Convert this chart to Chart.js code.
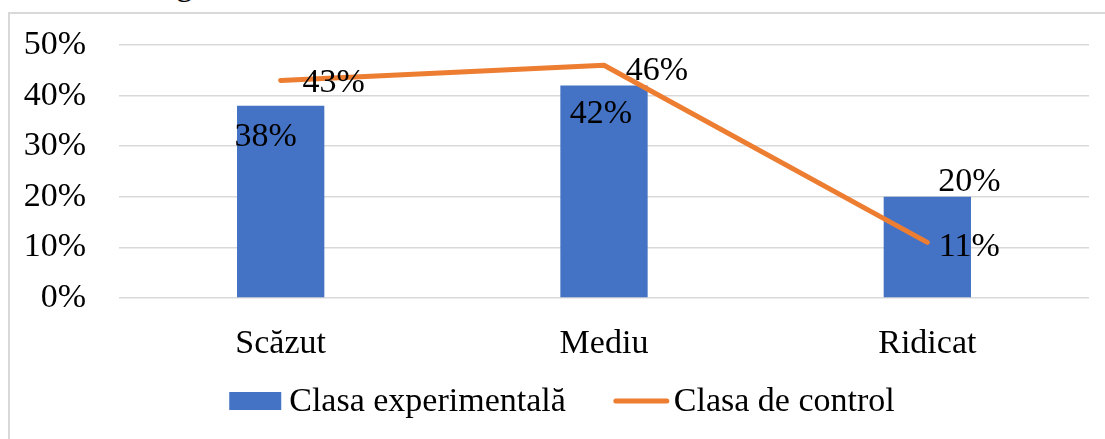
<!DOCTYPE html>
<html>
<head>
  <meta charset="utf-8" />
  <title>Clasa experimentală / Clasa de control</title>
  <style>
    html, body { margin: 0; padding: 0; background: #fff; overflow: hidden; }
    body { width: 1105px; height: 439px; position: relative; }
    .caption { position: absolute; left: 176px; top: -35px; font: 34px 'Liberation Serif', serif; color: #000; }
    .chart-box { position: absolute; left: 8px; top: 12px; width: 1104px; height: 440px; border: 2px solid #d9d9d9; }
  </style>
</head>
<body>
<div class="caption">g</div>
<div class="chart-box">
  <canvas id="chart" width="1104" height="440"></canvas>
</div>

<script src="https://cdn.jsdelivr.net/npm/chart.js"></script>
<script>
  // data
  var categories = ['Scăzut', 'Mediu', 'Ridicat'];
  var experimental = [38, 42, 20];
  var control = [43, 46, 11];
  var yTicks = [0, 10, 20, 30, 40, 50];

  var FONT = "'Liberation Serif', 'Times New Roman', serif";
  var BLUE = '#4472C4';
  var ORANGE = '#ED7D31';

  // where Excel left each data label, relative to the mark (px)
  var labelShift = [
    [[-15, 31], [-3, 29], [42, -15]],
    [[53, 3], [53, 6], [42, 5]]
  ];

  var dataLabels = {
    id: 'dataLabels',
    afterDatasetsDraw: function(chart) {
      var ctx = chart.ctx;
      ctx.save();
      ctx.font = '34px ' + FONT;
      ctx.fillStyle = '#000';
      ctx.textAlign = 'center';
      ctx.textBaseline = 'middle';
      chart.data.datasets.forEach(function(ds, i) {
        chart.getDatasetMeta(i).data.forEach(function(el, j) {
          var s = labelShift[i][j];
          ctx.fillText(ds.data[j] + '%', el.x + s[0], el.y + s[1]);
        });
      });
      ctx.restore();
    }
  };

  // legend drawn by hand so the key sizes match Excel
  var legendKeys = {
    id: 'legendKeys',
    afterDraw: function(chart) {
      var ctx = chart.ctx;
      var y = 387, keyW = 55, gap = 5, spacing = 48;
      ctx.save();
      ctx.font = '34px ' + FONT;
      var items = chart.data.datasets.map(function(ds) {
        return { ds: ds, w: keyW + gap + ctx.measureText(ds.label).width };
      });
      var total = items.reduce(function(a, it) { return a + it.w; }, 0) + spacing * (items.length - 1);
      var x = (chart.width - total) / 2;
      items.forEach(function(it) {
        if (it.ds.type === 'line') {
          ctx.strokeStyle = it.ds.borderColor;
          ctx.lineWidth = 5;
          ctx.lineCap = 'round';
          ctx.beginPath();
          ctx.moveTo(x + 2, y);
          ctx.lineTo(x + keyW - 2, y);
          ctx.stroke();
        } else {
          ctx.fillStyle = it.ds.backgroundColor;
          ctx.fillRect(x, y - 9, 52, 18);
        }
        ctx.fillStyle = '#000';
        ctx.textAlign = 'left';
        ctx.textBaseline = 'middle';
        ctx.fillText(it.ds.label, x + keyW + gap, y + 1);
        x += it.w + spacing;
      });
      ctx.restore();
    }
  };

  var ctx = document.getElementById('chart').getContext('2d');
  var chart = new Chart(ctx, {
    data: {
      labels: categories,
      datasets: [{
        type: 'bar',
        label: 'Clasa experimentală',
        data: experimental,
        backgroundColor: BLUE,
        barPercentage: 0.27,
        categoryPercentage: 1,
        order: 2
      }, {
        type: 'line',
        label: 'Clasa de control',
        data: control,
        borderColor: ORANGE,
        borderWidth: 5,
        borderCapStyle: 'round',
        borderJoinStyle: 'round',
        pointRadius: 0,
        tension: 0,
        order: 1
      }]
    },
    options: {
      responsive: false,
      animation: false,
      layout: { padding: { left: 0, right: 25, top: 31, bottom: 92 } },
      plugins: {
        legend: { display: false },
        tooltip: { enabled: false }
      },
      scales: {
        x: {
          grid: { display: false, drawTicks: false },
          border: { display: false },
          ticks: { color: '#000', font: { family: FONT, size: 34 }, padding: 26 },
          afterFit: function(scale) {
            scale.height = 64;
            scale.paddingLeft = 0;
            scale.paddingRight = 0;
          }
        },
        y: {
          min: 0,
          max: 50,
          afterBuildTicks: function(scale) {
            scale.ticks = yTicks.map(function(v) { return { value: v }; });
          },
          grid: { color: '#d9d9d9', lineWidth: 1.5, drawTicks: false },
          border: { display: false },
          ticks: {
            color: '#000',
            font: { family: FONT, size: 34 },
            padding: 33,
            callback: function(v) { return v + '%'; }
          },
          afterFit: function(scale) {
            scale.width = 109;
            scale.paddingTop = 0;
            scale.paddingBottom = 0;
          }
        }
      }
    },
    plugins: [dataLabels, legendKeys]
  });
</script>
</body>
</html>
